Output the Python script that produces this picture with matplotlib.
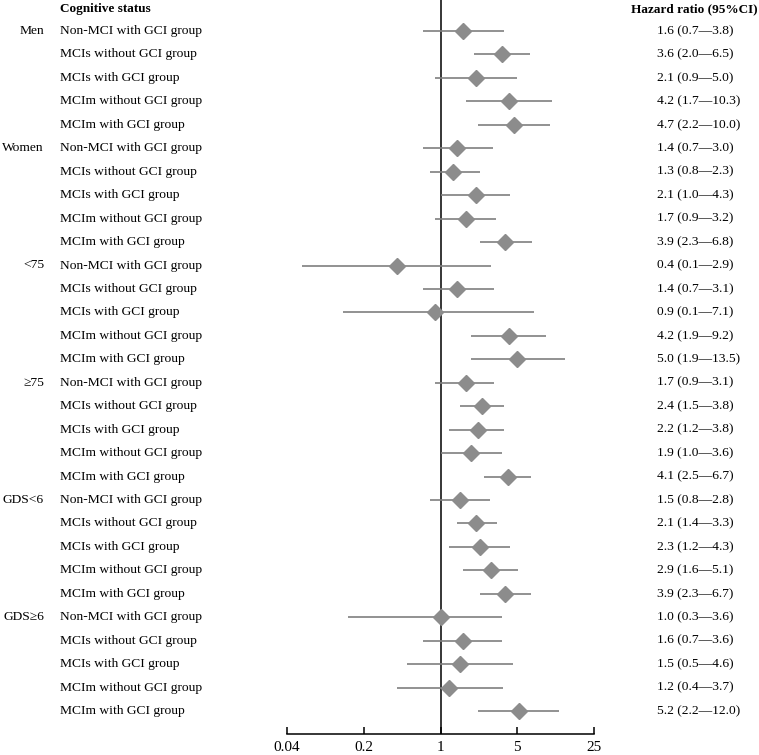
import matplotlib
matplotlib.use("Agg")
import matplotlib.pyplot as plt
from matplotlib.transforms import blended_transform_factory
import numpy as np

plt.rcParams['font.family'] = ['Liberation Serif', 'DejaVu Serif']

groups = ["Men", "Women", "<75", "≥75", "GDS<6", "GDS≥6"]
categories = ["Non-MCI with GCI group", "MCIs without GCI group", "MCIs with GCI group",
              "MCIm without GCI group", "MCIm with GCI group"]

# printed hazard ratios (per group, per category)
hr = [1.6, 3.6, 2.1, 4.2, 4.7,
      1.4, 1.3, 2.1, 1.7, 3.9,
      0.4, 1.4, 0.9, 4.2, 5.0,
      1.7, 2.4, 2.2, 1.9, 4.1,
      1.5, 2.1, 2.3, 2.9, 3.9,
      1.0, 1.6, 1.5, 1.2, 5.2]
ci_lo = [0.7, 2.0, 0.9, 1.7, 2.2,
         0.7, 0.8, 1.0, 0.9, 2.3,
         0.1, 0.7, 0.1, 1.9, 1.9,
         0.9, 1.5, 1.2, 1.0, 2.5,
         0.8, 1.4, 1.2, 1.6, 2.3,
         0.3, 0.7, 0.5, 0.4, 2.2]
ci_hi = [3.8, 6.5, 5.0, 10.3, 10.0,
         3.0, 2.3, 4.3, 3.2, 6.8,
         2.9, 3.1, 7.1, 9.2, 13.5,
         3.1, 3.8, 3.8, 3.6, 6.7,
         2.8, 3.3, 4.3, 5.1, 6.7,
         3.6, 3.6, 4.6, 3.7, 12.0]
# lower whisker ends as drawn in the picture (differ from the printed value in a few rows)
drawn_lo = [0.7, 2.0, 0.9, 1.7, 2.2,
            0.7, 0.8, 1.0, 0.9, 2.3,
            0.055, 0.7, 0.13, 1.9, 1.9,
            0.9, 1.5, 1.2, 1.0, 2.5,
            0.8, 1.4, 1.2, 1.6, 2.3,
            0.145, 0.7, 0.5, 0.4, 2.2]
xticks = [0.04, 0.2, 1, 5, 25]
xtick_labels = ["0.04", "0.2", "1", "5", "25"]

W, H = 759, 755
fig = plt.figure(figsize=(W / 100, H / 100), dpi=100)

x0_px, x1_px = 287, 594
ax_bottom_px = 734
ax = fig.add_axes([x0_px / W, 1 - ax_bottom_px / H, (x1_px - x0_px) / W, ax_bottom_px / H])
ax.set_xscale('log')
ax.set_xlim(0.04, 25)

n = len(hr)
rows = np.arange(n)
row0_px, step_px = 31, 23.45
ax.set_ylim((ax_bottom_px - row0_px) / step_px, -row0_px / step_px)

line_col = '#7f7f7f'
mark_col = '#8c8c8c'
ax.hlines(rows, drawn_lo, ci_hi, color=line_col, lw=1.2, zorder=2)
ax.axvline(1, color='black', lw=1.1, zorder=1)
ax.plot(hr, rows, 'D', color=mark_col, ms=8.4, mec=mark_col, zorder=3)

for s in ['top', 'right', 'left']:
    ax.spines[s].set_visible(False)
ax.spines['bottom'].set_linewidth(1.1)
ax.set_yticks([])
ax.set_xticks(xticks)
ax.set_xticklabels(xtick_labels, fontsize=11)
ax.minorticks_off()
ax.tick_params(axis='x', direction='in', length=5, width=1.1, pad=5)

tr = blended_transform_factory(fig.transFigure, ax.transData)
fs = 9.7
for i in range(n):
    g, c = divmod(i, 5)
    if c == 0:
        ax.text(44 / W, i, groups[g], transform=tr, ha='right', va='center', fontsize=fs, clip_on=False)
    ax.text(60 / W, i, categories[c], transform=tr, ha='left', va='center', fontsize=fs, clip_on=False)
    ax.text(657 / W, i, f"{hr[i]:.1f} ({ci_lo[i]:.1f}\u2014{ci_hi[i]:.1f})", transform=tr,
            ha='left', va='center', fontsize=fs, clip_on=False)

fig.text(60 / W, 1 - 9 / H, "Cognitive status", ha='left', va='center', fontsize=9.5, fontweight='bold')
fig.text(631 / W, 1 - 9 / H, "Hazard ratio (95%CI)", ha='left', va='center', fontsize=9.5, fontweight='bold')

fig.savefig("out.png", dpi=100)
